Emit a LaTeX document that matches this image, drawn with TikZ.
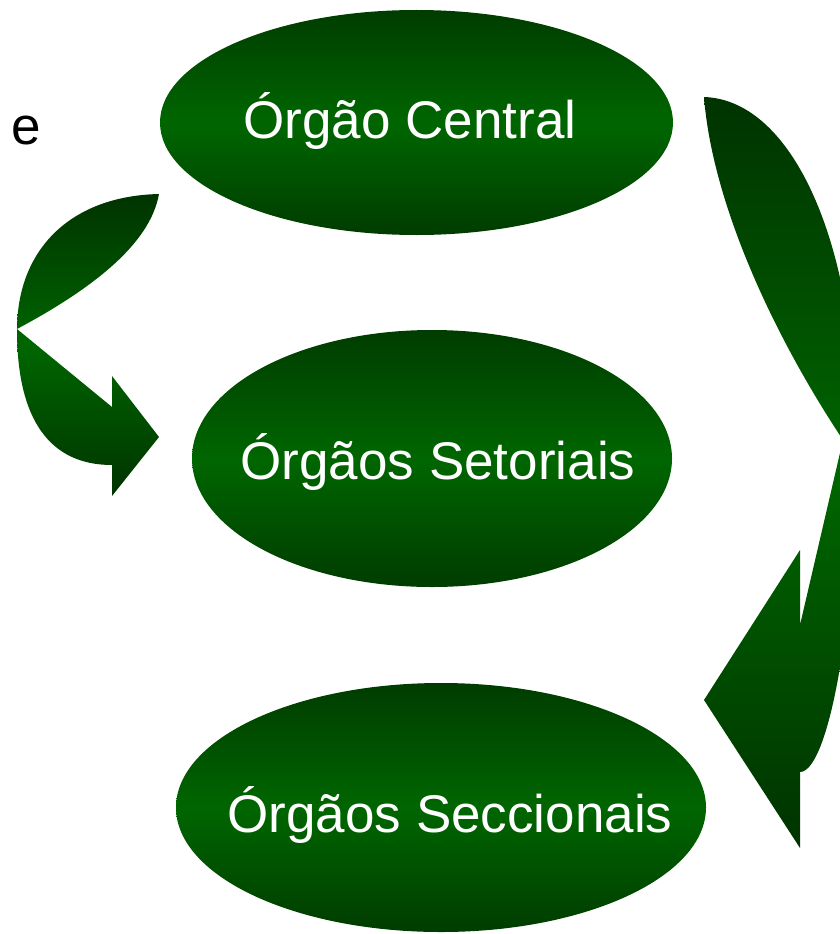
\documentclass[tikz,border=0pt]{standalone}
\usepackage{fontspec}
\setmainfont{Liberation Sans}
\usetikzlibrary{shapes.geometric}
\definecolor{Pine}{HTML}{003C00}
\definecolor{Leaf}{HTML}{006600}

\begin{document}
\begin{tikzpicture}[x=1pt, y=-1pt,
  organ/.style={ellipse, inner sep=0pt, draw=none,
     top color=Pine, bottom color=Pine, middle color=Leaf},
  organtext/.style={anchor=base, inner sep=0pt, text=white,
     font=\fontsize{53}{60}\selectfont},
  bendarrow/.style={top color=Pine!85!black, bottom color=Pine!85!black,
     middle color=Leaf}]
  \clip (0,0) rectangle (840,934);
  % the three bodies
  \node[organ, minimum width=513pt, minimum height=225pt] (central) at (416.5,122.5) {};
  \node[organ, minimum width=480pt, minimum height=257pt] (setor) at (432,458.5) {};
  \node[organ, minimum width=530pt, minimum height=249pt] (secc) at (441,807.5) {};
  \node[organtext] (central-txt) at (410,138) {Órgão Central};
  \node[organtext] (setor-txt) at (438,479) {Órgãos Setoriais};
  \node[organtext] (secc-txt) at (450,832) {Órgãos Seccionais};
  \node[anchor=base west, inner sep=0pt, font=\fontsize{53}{60}\selectfont] (conj) at (11,144) {e};
  % curved arrow, left side
  \shade[bendarrow] (159,194) .. controls (70,196) and (17,250) .. (17,330)
     .. controls (17,420) and (50,465) .. (112,465) -- (112,496) -- (159,437)
     -- (112,376) -- (112,407) -- (17,329)
     .. controls (90,290) and (150,245) .. (159,194) -- cycle;
  % curved arrow, right side
  \shade[bendarrow] (704,97) .. controls (795,100) and (855,250) .. (855,420)
     .. controls (860,600) and (830,772) .. (800,772) -- (800,848) -- (704,700)
     -- (800,550) -- (800,625) -- (843,440)
     .. controls (770,330) and (712,200) .. (704,97) -- cycle;
\end{tikzpicture}
\end{document}
